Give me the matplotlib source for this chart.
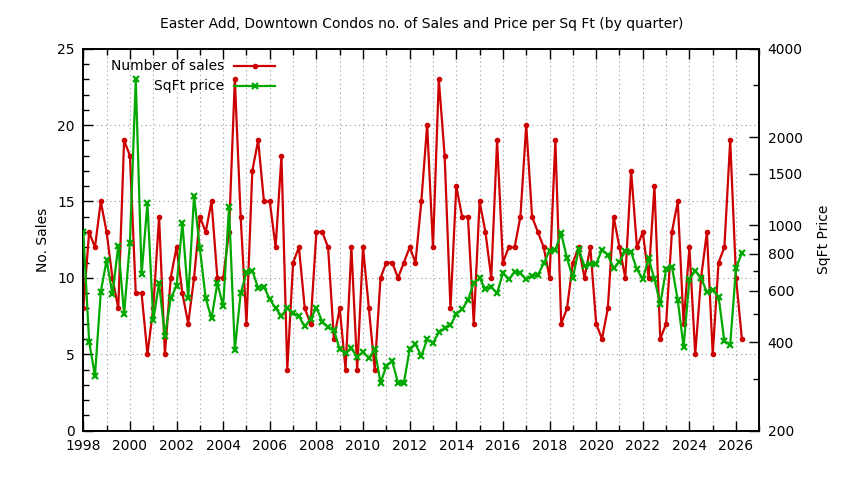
import matplotlib
matplotlib.use("Agg")
import matplotlib.pyplot as plt
import numpy as np
from matplotlib.ticker import FixedLocator, MultipleLocator, NullFormatter
from matplotlib.lines import Line2D

# quarterly data, 1998 Q1 .. 2026 Q2
start_year = 1998
sales = [
    8, 13, 12, 15,  13, 10, 8, 19,  18, 9, 9, 5,  8, 14, 5, 10,
    12, 9, 7, 10,  14, 13, 15, 10,  10, 13, 23, 14,  7, 17, 19, 15,
    15, 12, 18, 4,  11, 12, 8, 7,  13, 13, 12, 6,  8, 4, 12, 4,
    12, 8, 4, 10,  11, 11, 10, 11,  12, 11, 15, 20,  12, 23, 18, 8,
    16, 14, 14, 7,  15, 13, 10, 19,  11, 12, 12, 14,  20, 14, 13, 12,
    10, 19, 7, 8,  11, 12, 10, 12,  7, 6, 8, 14,  12, 10, 17, 12,
    13, 10, 16, 6,  7, 13, 15, 7,  12, 5, 10, 13,  5, 11, 12, 19,
    10, 6,
]
sqft_price = [
    950, 402, 307, 594,  762, 582, 851, 499,  873, 3148, 682, 1189,
    476, 635, 420, 565,  622, 1021, 565, 1259,  836, 565, 482, 635,
    531, 1152, 377, 587,  692, 701, 611, 618,  560, 522, 491, 522,
    502, 490, 453, 479,  525, 470, 450, 440,  378, 367, 381, 356,
    371, 353, 378, 291,  332, 345, 291, 291,  378, 394, 359, 409,
    398, 432, 446, 458,  498, 518, 557, 638,  661, 606, 618, 587,
    690, 655, 695, 687,  655, 673, 678, 743,  820, 827, 940, 773,
    661, 830, 727, 738,  738, 827, 793, 714,  752, 818, 810, 708,
    657, 773, 655, 540,  708, 723, 557, 386,  657, 700, 664, 592,
    602, 572, 403, 392,  718, 804,
]
quarters = start_year + np.arange(len(sales)) * 0.25

year_labels = list(range(1998, 2027, 2))
price_ticks = [200, 400, 600, 800, 1000, 1500, 2000, 4000]
price_minor = [300, 500, 700, 900, 3000]

red = "#cc0000"
green = "#00a800"

plt.rcParams['font.family'] = ['DejaVu Sans']
plt.rcParams['font.size'] = 10

fig = plt.figure(figsize=(8.44, 4.8), dpi=100)
ax = fig.add_axes([0.0987, 0.1029, 0.8010, 0.7956])
ax2 = ax.twinx()

l1, = ax.plot(quarters, sales, color=red, lw=1.6, marker='o', ms=3.0,
              mec=red, mfc=red, zorder=3)
l2, = ax2.plot(quarters, sqft_price, color=green, lw=1.6, marker='x', ms=4.5,
               mew=1.6, zorder=3)

ax.set_xlim(1998, 2027)
ax.set_ylim(0, 25)
ax2.set_yscale('log')
ax2.set_ylim(200, 4000)

ax.xaxis.set_major_locator(FixedLocator(year_labels))
ax.xaxis.set_minor_locator(MultipleLocator(1))
ax.yaxis.set_major_locator(MultipleLocator(5))
ax.yaxis.set_minor_locator(MultipleLocator(1))
ax.set_xticklabels([str(y) for y in year_labels])

ax2.yaxis.set_major_locator(FixedLocator(price_ticks))
ax2.yaxis.set_minor_locator(FixedLocator(price_minor))
ax2.yaxis.set_minor_formatter(NullFormatter())
ax2.set_yticklabels([str(p) for p in price_ticks])

ax.tick_params(axis='x', which='both', direction='in', top=True, pad=6)
ax.tick_params(axis='x', which='major', length=7, width=1)
ax.tick_params(axis='x', which='minor', length=4, width=1)
ax.tick_params(axis='y', which='both', direction='in', right=False)
ax.tick_params(axis='y', which='major', length=7, width=1, pad=6)
ax.tick_params(axis='y', which='minor', length=4, width=1)
ax2.tick_params(axis='y', which='both', direction='in')
ax2.tick_params(axis='y', which='major', length=7, width=1, pad=6)
ax2.tick_params(axis='y', which='minor', length=4, width=1)

ax.grid(True, which='both', axis='x', color='#999999', ls=(0, (1, 3)), lw=0.8)
ax.grid(True, which='major', axis='y', color='#999999', ls=(0, (1, 3)), lw=0.8)
ax.set_axisbelow(True)
for a in (ax, ax2):
    for s in a.spines.values():
        s.set_linewidth(1.2)

ax.set_ylabel("No. Sales", labelpad=5)
ax2.set_ylabel("SqFt Price", labelpad=10)
fig.suptitle("Easter Add, Downtown Condos no. of Sales and Price per Sq Ft (by quarter)",
             y=0.965, fontsize=10)

# gnuplot style key: right aligned text, sample line on its right
key_items = [(l1, "Number of sales", 0.955), (l2, "SqFt price", 0.902)]
for line, label, ky in key_items:
    ax2.text(0.208, ky, label, transform=ax2.transAxes, ha='right', va='center',
             fontsize=10)
    ax2.add_line(Line2D([0.223, 0.284], [ky, ky], transform=ax2.transAxes,
                        color=line.get_color(), lw=line.get_linewidth()))
    ax2.add_line(Line2D([0.2535], [ky], transform=ax2.transAxes,
                        color=line.get_color(), marker=line.get_marker(),
                        ms=line.get_markersize(), mew=line.get_markeredgewidth(),
                        ls='none'))

fig.savefig("out.png", dpi=100)
